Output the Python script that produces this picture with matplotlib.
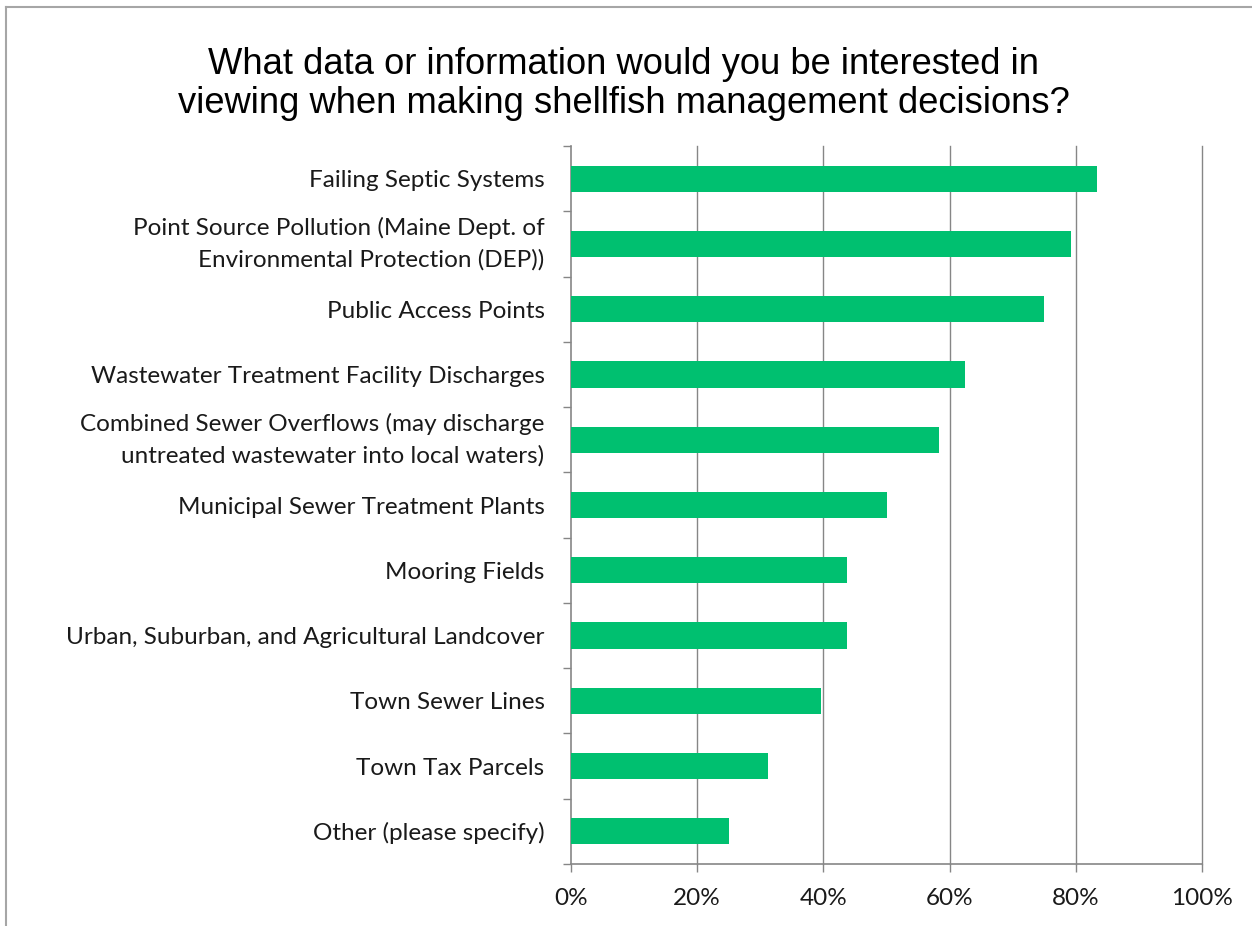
import matplotlib
matplotlib.use("Agg")
import matplotlib.pyplot as plt
from matplotlib.lines import Line2D
import numpy as np

title = ("What data or information would you be interested in\n"
         "viewing when making shellfish management decisions?")

categories = [
    "Failing Septic Systems",
    "Point Source Pollution (Maine Dept. of\nEnvironmental Protection (DEP))",
    "Public Access Points",
    "Wastewater Treatment Facility Discharges",
    "Combined Sewer Overflows (may discharge\nuntreated wastewater into local waters)",
    "Municipal Sewer Treatment Plants",
    "Mooring Fields",
    "Urban, Suburban, and Agricultural Landcover",
    "Town Sewer Lines",
    "Town Tax Parcels",
    "Other (please specify)",
]
shares = [83.33, 79.17, 75.0, 62.5, 58.33, 50.0, 43.75, 43.75, 39.58, 31.25, 25.0]
x_ticks = [0, 20, 40, 60, 80, 100]
x_tick_labels = ["0%", "20%", "40%", "60%", "80%", "100%"]

W, H = 1252, 926
fig = plt.figure(figsize=(W / 100, H / 100), dpi=100)
fig.patch.set_facecolor("white")

# outer chart frame (left and top edges visible)
frame_col = "#A6A6A6"
fig.add_artist(Line2D([6 / W, 6 / W], [0, 1 - 7 / H], transform=fig.transFigure,
                      color=frame_col, lw=1.5))
fig.add_artist(Line2D([6 / W, 1], [1 - 7 / H, 1 - 7 / H], transform=fig.transFigure,
                      color=frame_col, lw=1.5))

ax = fig.add_axes([571 / W, 1 - 864 / H, (1202 - 571) / W, (864 - 146) / H])

n = len(categories)
y = np.arange(n)
ax.barh(y, shares, height=0.4, color="#00C070", zorder=3)

ax.set_xlim(0, 100)
ax.set_ylim(n - 0.5, -0.5)

grid_col = "#868686"
ax.set_xticks(x_ticks)
ax.set_xticklabels(x_tick_labels, fontname="Lato", fontsize=17.5, color="#1a1a1a")
ax.tick_params(axis="x", direction="out", length=6, width=1, color=grid_col, pad=11)
for xv in x_ticks[1:]:
    ax.axvline(xv, color=grid_col, lw=1, zorder=0, clip_on=False)

ax.set_yticks(y)
labels = ax.set_yticklabels(categories, fontname="Lato", fontsize=17.5, color="#1a1a1a",
                            linespacing=1.55)
for lab in labels:
    if "\n" in lab.get_text():
        lab.set_verticalalignment("center")
ax.tick_params(axis="y", which="major", length=0, pad=19)
ax.set_yticks(np.arange(-0.5, n, 1.0), minor=True)
ax.tick_params(axis="y", which="minor", direction="out", length=6, width=1, color=grid_col)

for side in ("top", "right"):
    ax.spines[side].set_visible(False)
for side in ("left", "bottom"):
    ax.spines[side].set_color(grid_col)
    ax.spines[side].set_linewidth(1.2)

fig.text(0.5 * (207 + 1040) / W, 1 - 84 / H, title, ha="center", va="center",
         fontname="Liberation Sans", fontsize=26.2, linespacing=1.15, color="black")

fig.savefig("out.png", dpi=100)
